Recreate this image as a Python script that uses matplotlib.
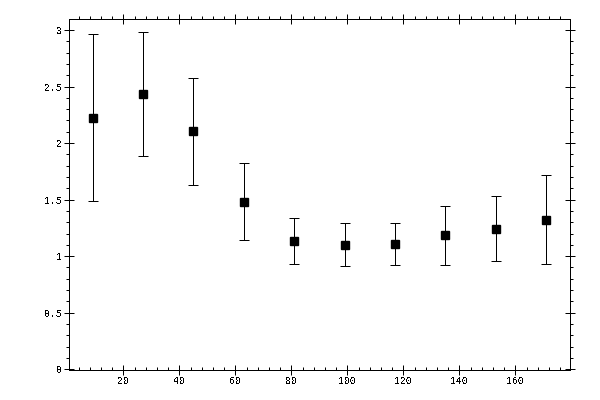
import matplotlib
matplotlib.use("Agg")
import matplotlib.pyplot as plt
from matplotlib.ticker import MultipleLocator

# values
x = [9, 27, 45, 63, 81, 99, 117, 135, 153, 171]
y = [2.219, 2.431, 2.105, 1.477, 1.132, 1.096, 1.104, 1.185, 1.238, 1.317]
y_top = [2.962, 2.985, 2.573, 1.821, 1.335, 1.291, 1.291, 1.441, 1.530, 1.715]
y_bot = [1.488, 1.883, 1.627, 1.141, 0.928, 0.911, 0.920, 0.920, 0.955, 0.928]

err_lo = [a - b for a, b in zip(y, y_bot)]
err_hi = [b - a for a, b in zip(y, y_top)]

plt.rcParams['font.family'] = ['Liberation Mono', 'DejaVu Sans Mono']
plt.rcParams['text.antialiased'] = False
plt.rcParams['lines.antialiased'] = False
plt.rcParams['patch.antialiased'] = False

LW = 0.72  # one pixel at 100 dpi

fig = plt.figure(figsize=(6, 4), dpi=100, facecolor='white')
ax = fig.add_axes([0.1155, 0.0758, 0.8350, 0.8760])

ax.errorbar(x, y, yerr=[err_lo, err_hi], fmt='s', color='black',
            ms=5.2, elinewidth=LW, capsize=3.6, capthick=LW)

ax.set_xlim(0.7, 179.6)
ax.set_ylim(-0.004, 3.095)

for s in ax.spines.values():
    s.set_linewidth(LW)
    s.set_antialiased(False)

ax.xaxis.set_major_locator(MultipleLocator(20))
ax.xaxis.set_minor_locator(MultipleLocator(4))
ax.yaxis.set_major_locator(MultipleLocator(0.5))
ax.yaxis.set_minor_locator(MultipleLocator(0.1))
ax.yaxis.set_major_formatter(plt.FuncFormatter(lambda v, p: ('%g' % v)))
ax.xaxis.set_major_formatter(plt.FuncFormatter(lambda v, p: '' if v <= 0 else '%g' % v))

ax.tick_params(axis='x', which='major', direction='inout', length=6.5, width=LW,
               labelsize=7, pad=1.5, top=False)
ax.tick_params(axis='x', which='minor', direction='in', length=2.5, width=LW, top=False)
ax.tick_params(axis='y', which='major', direction='inout', length=6.5, width=LW,
               labelsize=7, pad=2, right=True)
ax.tick_params(axis='y', which='minor', direction='out', length=2.5, width=LW, right=True)

# top axis has its minor ticks pointing outward
top = ax.secondary_xaxis('top')
top.xaxis.set_major_locator(MultipleLocator(20))
top.xaxis.set_minor_locator(MultipleLocator(4))
top.tick_params(which='major', direction='inout', length=6.5, width=LW, labeltop=False)
top.tick_params(which='minor', direction='out', length=2.5, width=LW)
top.spines['top'].set_linewidth(LW)

fig.savefig('out.png', dpi=100, facecolor='white')
